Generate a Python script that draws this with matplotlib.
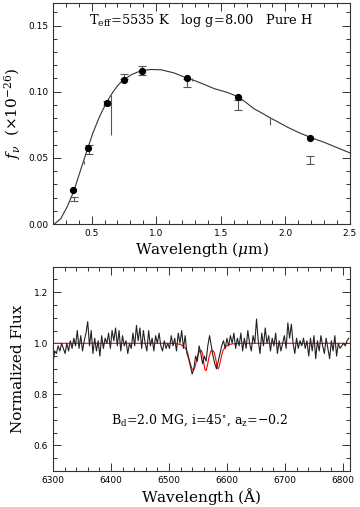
import numpy as np
import matplotlib
matplotlib.use("Agg")
import matplotlib.pyplot as plt
from matplotlib.ticker import MultipleLocator

plt.rcParams['font.family'] = ['DejaVu Serif']
plt.rcParams['mathtext.fontset'] = 'dejavuserif'

# --- top panel: model SED (smooth curve), model photometry (dots), observed fluxes (error bars)
sed_wl = [0.21, 0.26, 0.31, 0.36, 0.41, 0.46, 0.51, 0.56, 0.59, 0.615, 0.64, 0.66, 0.70, 0.74,
          0.81, 0.885, 0.96, 1.035, 1.135, 1.22, 1.30, 1.38, 1.45, 1.55, 1.64, 1.70, 1.756,
          1.82, 1.88, 1.95, 2.013, 2.10, 2.205, 2.30, 2.40, 2.50]
sed_flux = [0.0, 0.004, 0.013, 0.0244, 0.0395, 0.0545, 0.069, 0.081, 0.087, 0.0915, 0.096,
            0.099, 0.1045, 0.1085, 0.113, 0.116, 0.1168, 0.1166, 0.1143, 0.111, 0.1083,
            0.1052, 0.1023, 0.0995, 0.096, 0.0915, 0.0872, 0.0838, 0.0804, 0.0768, 0.0734,
            0.0693, 0.0651, 0.0618, 0.0578, 0.0538]

phot_wl = [0.355, 0.47, 0.615, 0.75, 0.89, 1.24, 1.63, 2.19]
phot_flux = [0.0256, 0.0578, 0.0917, 0.1085, 0.1156, 0.1103, 0.096, 0.0651]

obs_wl = [0.36, 0.48, 0.615, 0.75, 0.89, 1.24, 1.63, 2.19]
obs_flux = [0.019, 0.056, 0.0915, 0.1117, 0.1157, 0.1067, 0.0898, 0.0485]
obs_err = [0.0017, 0.0034, 0.0012, 0.0019, 0.0034, 0.0031, 0.0038, 0.0028]

# observed points drawn without caps
bar_wl = [0.44, 0.65, 1.28, 1.88]
bar_flux = [0.0466, 0.0824, 0.1093, 0.0776]
bar_err = [0.001, 0.0153, 0.0013, 0.0029]

# --- bottom panel: observed H-alpha region and magnetic model
spec_flux = [
    0.92, 0.97, 0.96, 0.99, 0.97, 1.00, 0.98, 0.96, 1.00, 0.97,
    1.01, 0.98, 1.02, 0.99, 1.05, 0.98, 1.03, 0.97, 1.01, 1.04,
    1.085, 0.99, 1.05, 0.96, 1.02, 0.97, 1.01, 0.95, 1.03, 0.98,
    1.02, 1.00, 1.04, 0.98, 1.05, 1.01, 1.06, 0.99, 1.05, 0.97,
    1.03, 0.99, 1.01, 0.96, 1.00, 0.98, 1.04, 0.99, 1.07, 1.01,
    1.06, 0.98, 1.05, 1.00, 0.97, 1.05, 0.99, 1.02, 0.97, 1.03,
    1.00, 1.04, 0.99, 0.97, 1.01, 0.98, 1.00, 0.98, 1.03, 0.99,
    1.02, 0.97, 1.04, 1.00, 1.05, 0.98, 1.03, 0.96, 0.94, 0.91,
    0.88, 0.90, 0.95, 0.93, 0.99, 0.96, 0.92, 0.95, 0.93, 0.99,
    1.03, 0.99, 0.95, 0.92, 0.90, 0.93, 0.96, 0.99, 1.01, 0.98,
    1.02, 0.99, 1.03, 1.00, 1.04, 0.98, 1.02, 0.99, 1.04, 0.97,
    1.02, 0.98, 1.05, 1.00, 0.97, 1.03, 1.00, 1.095, 1.01, 0.96,
    1.04, 0.99, 1.06, 1.00, 1.03, 0.97, 1.02, 0.99, 1.04, 0.96,
    1.01, 0.97, 1.00, 1.03, 0.98, 1.08, 1.02, 1.075, 1.00, 0.96,
    1.02, 0.98, 1.01, 0.99, 1.02, 0.98, 1.01, 0.95, 1.02, 0.97,
    1.03, 0.94, 1.01, 0.97, 1.03, 0.99, 0.96, 1.02, 0.98, 0.94,
    1.01, 0.97, 1.03, 0.95, 1.00, 0.98, 0.99, 1.00, 0.99, 1.01,
    1.02]
spec_wl = np.arange(6300, 6811, 3)

model_wl = [6300, 6500, 6515, 6522, 6528, 6532, 6535, 6538, 6540, 6542, 6544, 6547, 6550,
            6553, 6556, 6558, 6560, 6562, 6564, 6566, 6569, 6572, 6575, 6578, 6581, 6583,
            6585, 6587, 6590, 6593, 6597, 6602, 6610, 6625, 6810]
model_flux = [1.0, 1.0, 0.998, 0.993, 0.982, 0.965, 0.935, 0.912, 0.899, 0.895, 0.902, 0.925,
              0.955, 0.970, 0.972, 0.960, 0.925, 0.898, 0.893, 0.910, 0.945, 0.968, 0.973,
              0.965, 0.935, 0.905, 0.900, 0.912, 0.945, 0.970, 0.985, 0.994, 0.998, 1.0, 1.0]

fig = plt.figure(figsize=(3.6, 5.07), dpi=100)
ax1 = fig.add_axes([0.147, 0.558, 0.825, 0.436])
ax2 = fig.add_axes([0.147, 0.071, 0.825, 0.403])

ink = '#333333'
for ax in (ax1, ax2):
    ax.tick_params(which='both', direction='in', top=True, right=True, colors=ink,
                   labelcolor='black', labelsize=6.5, width=0.7, pad=3.5)
    ax.tick_params(which='major', length=6)
    ax.tick_params(which='minor', length=3)
    for lab in ax.get_xticklabels() + ax.get_yticklabels():
        lab.set_family('DejaVu Sans')
    for s in ax.spines.values():
        s.set_color(ink)
        s.set_linewidth(0.8)

ax1.plot(sed_wl, sed_flux, color=ink, lw=0.8)
ax1.errorbar(obs_wl, obs_flux, yerr=obs_err, fmt='none', ecolor='#555555',
             elinewidth=0.8, capsize=3, capthick=0.8)
ax1.errorbar(bar_wl, bar_flux, yerr=bar_err, fmt='none', ecolor='#555555', elinewidth=0.8)
ax1.plot(phot_wl, phot_flux, 'o', color='black', ms=4.2)
ax1.set_xlim(0.2, 2.5)
ax1.set_ylim(0.0, 0.167)
ax1.xaxis.set_major_locator(MultipleLocator(0.5))
ax1.xaxis.set_minor_locator(MultipleLocator(0.1))
ax1.yaxis.set_major_locator(MultipleLocator(0.05))
ax1.yaxis.set_minor_locator(MultipleLocator(0.01))
ax1.xaxis.set_major_formatter(plt.FormatStrFormatter('%.1f'))
ax1.yaxis.set_major_formatter(plt.FormatStrFormatter('%.2f'))
ax1.set_xlabel(r'Wavelength ($\mu$m)', fontsize=11)
ax1.set_ylabel(r'$f_\nu$  ($\times10^{-26}$)', fontsize=11)
ax1.xaxis.set_label_coords(0.5, -0.07)
ax1.yaxis.set_label_coords(-0.10, 0.5)
ax1.text(0.5, 0.92, r'T$_{\rm eff}$=5535 K   log g=8.00   Pure H', transform=ax1.transAxes,
         ha='center', va='center', fontsize=9.4)

ax2.plot(model_wl, model_flux, color='red', lw=0.8)
ax2.plot(spec_wl, spec_flux, color='#222222', lw=0.8)
ax2.set_xlim(6300, 6812)
ax2.set_ylim(0.5, 1.3)
ax2.xaxis.set_major_locator(MultipleLocator(100))
ax2.xaxis.set_minor_locator(MultipleLocator(20))
ax2.yaxis.set_major_locator(MultipleLocator(0.2))
ax2.yaxis.set_minor_locator(MultipleLocator(0.05))
ax2.yaxis.set_major_formatter(plt.FormatStrFormatter('%.1f'))
ax2.set_xlabel(r'Wavelength ($\rm\AA$)', fontsize=11)
ax2.set_ylabel('Normalized Flux', fontsize=11)
ax2.xaxis.set_label_coords(0.5, -0.075)
ax2.yaxis.set_label_coords(-0.095, 0.5)
ax2.text(0.495, 0.25, r'B$_{\rm d}$=2.0 MG, i=45$^{\circ}$, a$_{\rm z}$=$-$0.2',
         transform=ax2.transAxes, ha='center', va='center', fontsize=9)

fig.savefig('out.png', dpi=100)
